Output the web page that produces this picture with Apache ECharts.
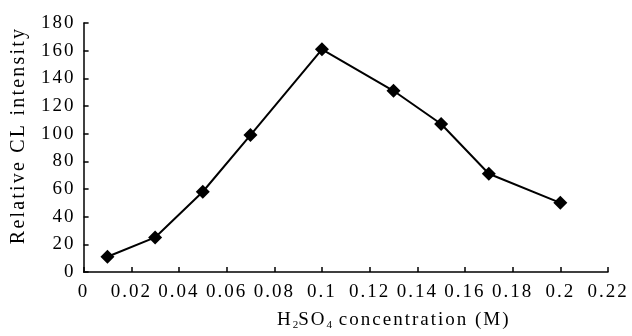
<!DOCTYPE html>
<html>
<head>
<meta charset="utf-8">
<script src="https://cdn.jsdelivr.net/npm/echarts@6/dist/echarts.min.js"></script>
<style>html,body{margin:0;padding:0;background:#fff}#c{width:632px;height:336px}</style>
</head>
<body>
<div id="c"></div>
<script>
var concentration = [0.01, 0.03, 0.05, 0.07, 0.10, 0.13, 0.15, 0.17, 0.20];
var intensity = [11, 25, 58, 99, 161, 131, 107, 71, 50];
var yTitle = 'Relative CL intensity';
var xTitle = 'H{sub|2}SO{sub|4} concentration (M)';

// widen glyph spacing to match the reference typeface
(function () {
  var proto = CanvasRenderingContext2D.prototype;
  var d = Object.getOwnPropertyDescriptor(proto, 'font');
  if (!d || !('letterSpacing' in proto)) return;
  Object.defineProperty(proto, 'font', {
    configurable: true,
    get: function () { return d.get.call(this); },
    set: function (v) {
      d.set.call(this, v);
      var m = /(\d+(?:\.\d+)?)px/.exec(v);
      var s = m ? Math.max(0, (parseFloat(m[1]) - 12) * 0.28) : 0;
      this.letterSpacing = s.toFixed(1) + 'px';
    }
  });
})();

var font = 'Liberation Serif';
var chart = echarts.init(document.getElementById('c'), null, {renderer: 'canvas'});
chart.setOption({
  animation: false,
  backgroundColor: '#fff',
  grid: {left: 82, right: 24, top: 23, bottom: 58},
  xAxis: {
    type: 'value', min: 0, max: 0.22, interval: 0.02,
    axisLine: {lineStyle: {color: '#000', width: 1.5}},
    axisTick: {inside: true, length: 5, lineStyle: {color: '#000', width: 1.5}},
    splitLine: {show: false},
    axisLabel: {color: '#000', fontFamily: font, fontSize: 19, margin: 10,
      formatter: function (v) { return String(+v.toFixed(2)); }},
    name: xTitle, nameLocation: 'middle', nameGap: 38,
    nameTextStyle: {color: '#000', fontFamily: font, fontSize: 19, padding: [0, 0, 0, 96],
      rich: {sub: {fontFamily: font, fontSize: 11, verticalAlign: 'bottom', padding: [8, 0, 0, 0], color: '#000'}}}
  },
  yAxis: {
    type: 'value', min: 0, max: 180, interval: 20,
    axisLine: {show: true, lineStyle: {color: '#000', width: 1.5}},
    axisTick: {show: true, inside: true, length: 5, lineStyle: {color: '#000', width: 1.5}},
    splitLine: {show: false},
    axisLabel: {color: '#000', fontFamily: font, fontSize: 19, margin: 8},
    name: yTitle, nameLocation: 'middle', nameGap: 51, nameRotate: 90,
    nameTextStyle: {color: '#000', fontFamily: font, fontSize: 20, padding: [0, 0, 0, 24]}
  },
  series: [{
    type: 'line',
    data: concentration.map(function (x, i) { return [x, intensity[i]]; }),
    symbol: 'diamond', symbolSize: 14,
    itemStyle: {color: '#000'},
    lineStyle: {color: '#000', width: 2}
  }]
});
</script>
</body>
</html>
